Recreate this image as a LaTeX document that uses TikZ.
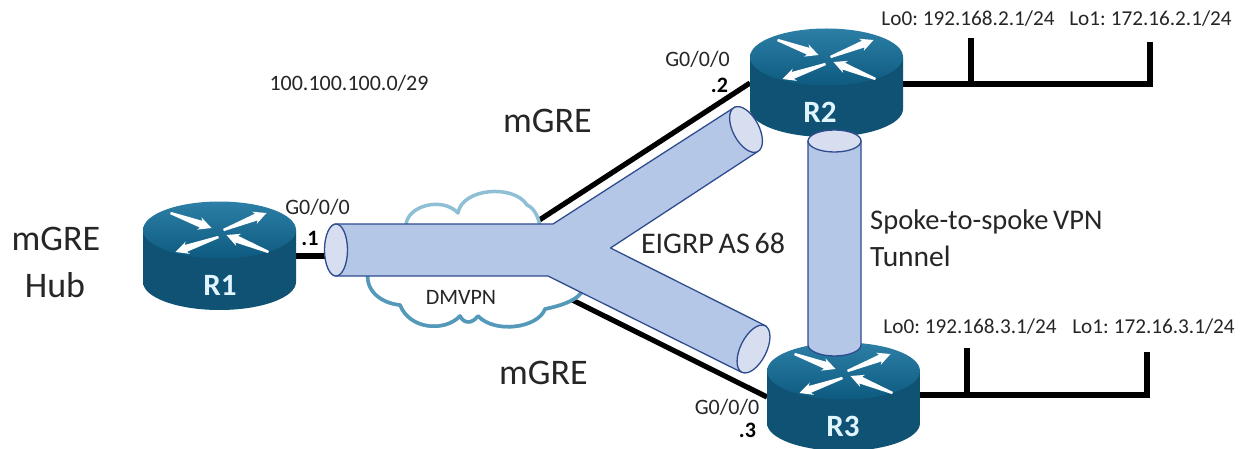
\documentclass[tikz,border=0pt]{standalone}
\usepackage{fontspec}
\setmainfont[WordSpace=0.7]{Carlito}
\usetikzlibrary{arrows.meta}
\definecolor{tubefill}{HTML}{B4C7E7}
\definecolor{tubeend}{HTML}{D6DEF0}
\definecolor{tubeline}{HTML}{2F4B8F}
\definecolor{cloudlight}{HTML}{8FBFD4}
\definecolor{clouddark}{HTML}{5599BA}
\definecolor{txt}{HTML}{262626}
\definecolor{sideedge}{HTML}{0F5273}
\definecolor{sidemid}{HTML}{4A98B8}
\definecolor{toplight}{HTML}{2C7FA6}
\definecolor{topdark}{HTML}{0E5A80}
\tikzset{
  tube/.style={fill=tubefill,draw=tubeline,line width=1.3pt,line join=round},
  tubecap/.style={fill=tubeend,draw=tubeline,line width=1.3pt},
  wire/.style={draw=black,line width=5.2pt},
  lab/.style={inner sep=0pt,text=txt,font=\fontsize{22}{22}\selectfont},
  lolab/.style={inner sep=0pt,text=txt,font=\fontsize{21.2}{22}\selectfont},
  big/.style={inner sep=0pt,text=txt,font=\fontsize{36}{36}\selectfont},
  mid/.style={inner sep=0pt,text=txt,font=\fontsize{28.5}{29}\selectfont},
  dotlab/.style={inner sep=0pt,text=black,font=\bfseries\fontsize{22}{22}\selectfont},
  rname/.style={inner sep=0pt,text=white!88!cyan,font=\bfseries\fontsize{31}{31}\selectfont},
  cloudpath/.style={line width=3.5pt,line join=round}
}
% tapered white arrow on the router's top face
\newcommand{\rarr}[4]{%
  \pgfmathsetmacro{\dl}{veclen(#3-#1,#4-#2)}%
  \pgfmathsetmacro{\ux}{(#3-#1)/\dl}%
  \pgfmathsetmacro{\uy}{(#4-#2)/\dl}%
  \fill[white] ({#1-\uy*1.2},{#2+\ux*1.2})
    -- ({#3-\ux*11-\uy*3.6},{#4-\uy*11+\ux*3.6})
    -- ({#3-\ux*13-\uy*6.5},{#4-\uy*13+\ux*6.5})
    -- (#3,#4)
    -- ({#3-\ux*13+\uy*6.5},{#4-\uy*13-\ux*6.5})
    -- ({#3-\ux*11+\uy*3.6},{#4-\uy*11-\ux*3.6})
    -- ({#1+\uy*1.2},{#2-\ux*1.2}) -- cycle;}
% #1 centre of the top face, #2 name, #3 x-offset of the label
\newcommand{\routerbody}[3]{%
  \begin{scope}[shift={(#1)}]
    \shade[left color=sideedge,middle color=sidemid,right color=sideedge]
      (-76.5,0) -- (-76.5,52) .. controls (-76.5,67.5) and (-42,80) .. (0,80)
      .. controls (42,80) and (76.5,67.5) .. (76.5,52) -- (76.5,0) -- cycle;
    \shade[top color=toplight,bottom color=topdark]
      (0,0) ellipse[x radius=76.5pt,y radius=28.5pt];
    \rarr{-49}{-17}{-8}{-2}
    \rarr{4}{0}{47}{-17}
    \rarr{-1}{7}{-44}{22}
    \rarr{49}{22}{7}{5}
    \node[rname] (#2) at (#3,55) {#2};
  \end{scope}}
\newcommand{\cloudoutline}{%
  (406,226) .. controls (406,206) and (442,196) .. (458,213)
  .. controls (462,188) and (514,184) .. (527,205)
  .. controls (534,208) and (538,216) .. (540,226)
  -- (584,288)
  .. controls (580,300) and (560,306) .. (545,309)
  .. controls (538,328) and (495,334) .. (478,316)
  .. controls (472,324) and (464,324) .. (460,316)
  .. controls (445,332) and (410,330) .. (400,305)
  .. controls (380,303) and (365,290) .. (368,272) -- cycle}
\begin{document}
\begin{tikzpicture}[x=1pt,y=-1pt]
\useasboundingbox[fill=white] (0,0) rectangle (1246,449);
% named connector ends
\coordinate (hub) at (484,256);
\coordinate (r1port) at (296,256);
\coordinate (tubein) at (330,256);
\coordinate (r2port) at (750,83);
\coordinate (r3port) at (767,397);
\coordinate (r2e) at (903,84);
\coordinate (r2a) at (971,84);
\coordinate (r2at) at (971,38);
\coordinate (r2b) at (1150,84);
\coordinate (r2bt) at (1150,42);
\coordinate (r3e) at (920,395);
\coordinate (r3a) at (967,395);
\coordinate (r3at) at (967,348);
\coordinate (r3b) at (1147,395);
\coordinate (r3bt) at (1147,352);
% wires
\draw[wire] (r1port) -- (tubein);
\draw[wire] (hub) -- (r2port);
\draw[wire] (hub) -- (r3port);
\draw[wire,line join=miter] (r2e) -- (r2b) -- (r2bt);
\draw[wire] (r2a) -- (r2at);
\draw[wire,line join=miter] (r3e) -- (r3b) -- (r3bt);
\draw[wire] (r3a) -- (r3at);
% routers
\routerbody{219.5,230}{R1}{0.5}
\routerbody{826.5,57}{R2}{-6.5}
\routerbody{843.5,371}{R3}{-0.5}
% cloud
\draw[fill=white,draw=cloudlight,cloudpath] \cloudoutline;
\begin{scope}
  \clip (340,262) rectangle (600,340);
  \draw[draw=clouddark,cloudpath] \cloudoutline;
\end{scope}
% Y-shaped tunnel
\path[tube] (336,224) -- (553,224) -- (735,107) -- (757,152) -- (610.5,248)
  -- (766,326) -- (741,372) -- (548,276) -- (336,276)
  .. controls (330,276) and (325,264) .. (325,250)
  .. controls (325,236) and (330,224) .. (336,224) -- cycle;
\draw[tubecap] (336,250) ellipse[x radius=11.5pt,y radius=26pt];
\draw[tubecap,shift={(746,129.5)},rotate=28] (0,0) ellipse[x radius=13pt,y radius=25pt];
\draw[tubecap,shift={(753.5,349)},rotate=-26.6] (0,0) ellipse[x radius=13pt,y radius=26pt];
% vertical tunnel
\path[tube] (808,141) -- (808,345) .. controls (808,351) and (820,356) .. (834.5,356)
  .. controls (849,356) and (861,351) .. (861,345) -- (861,141) -- cycle;
\draw[tubecap] (834.5,141) ellipse[x radius=26.5pt,y radius=11pt];
% labels
\node[big] (hubA) at (56,239) {mGRE};
\node[big] (hubB) at (55,285) {Hub};
\node[big] (greA) at (547.5,121) {mGRE};
\node[big] (greB) at (543.5,373) {mGRE};
\node[lab] (net) at (349,83) {100.100.100.0/29};
\node[lab] (g1) at (317.5,207) {G0/0/0};
\node[dotlab] (d1) at (310,238) {.1};
\node[lab] (g2) at (697.5,59) {G0/0/0};
\node[dotlab] (d2) at (719.5,85) {.2};
\node[lab] (g3) at (727,407) {G0/0/0};
\node[dotlab] (d3) at (747.5,430) {.3};
\node[lab] (dm) at (461,297) {DMVPN};
\node[mid,font=\fontsize{30}{30}\selectfont] (eig) at (713,243) {EIGRP AS 68};
\node[mid,anchor=west] (sp) at (870,222) {Spoke-to-spoke VPN};
\node[mid,anchor=west,font=\fontsize{29.5}{30}\selectfont] (tn) at (870,256) {Tunnel};
\node[lolab] (l20) at (968,19) {Lo0: 192.168.2.1/24};
\node[lolab] (l21) at (1150.5,19) {Lo1: 172.16.2.1/24};
\node[lolab] (l30) at (970,327) {Lo0: 192.168.3.1/24};
\node[lolab] (l31) at (1153.5,327) {Lo1: 172.16.3.1/24};
\end{tikzpicture}
\end{document}
